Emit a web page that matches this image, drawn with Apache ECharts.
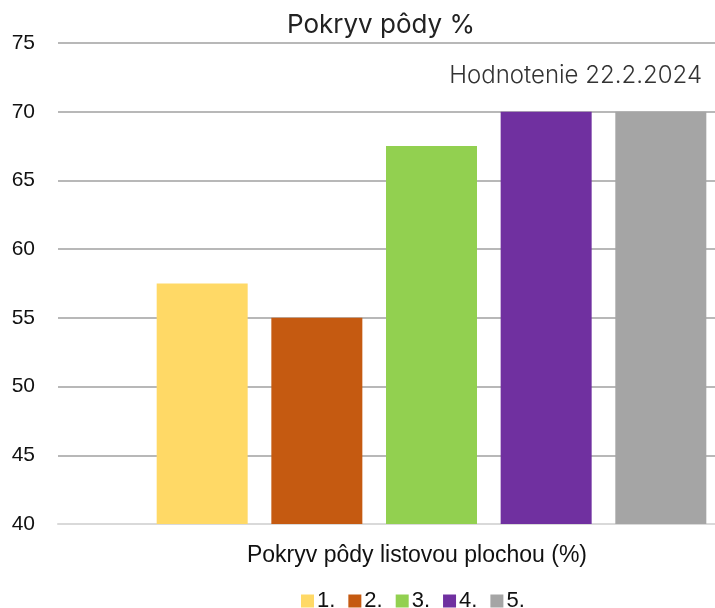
<!DOCTYPE html>
<html lang="sk">
<head>
    <meta charset="UTF-8">
    <title>Pokryv pôdy %</title>
    <script src="https://cdn.jsdelivr.net/npm/echarts@6/dist/echarts.min.js"></script>
    <style>
        html, body { margin: 0; padding: 0; background: #fff; }
        #chart { width: 715px; height: 608px; }
    </style>
</head>
<body>
<div id="chart"></div>
<script type="text/javascript">
    // údaje z grafu
    var categories = ['Pokryv pôdy listovou plochou (%)'];
    var seriesNames = ['1.', '2.', '3.', '4.', '5.'];
    var seriesValues = [[57.5], [55], [67.5], [70], [70]];
    var seriesColors = ['#FFD966', '#C55A11', '#92D050', '#7030A0', '#A5A5A5'];

    var myChart = echarts.init(document.getElementById('chart'));

    var series = seriesNames.map(function (name, i) {
        return {
            name: name,
            type: 'bar',
            data: seriesValues[i],
            barWidth: 91,
            barGap: '26%',
            itemStyle: { color: seriesColors[i] }
        };
    });

    var option = {
        backgroundColor: '#fff',
        animation: false,
        title: [{
            text: 'Pokryv pôdy %',
            left: 376,
            top: 7,
            textAlign: 'center',
            textStyle: { fontFamily: 'Inter', fontSize: 26, fontWeight: 'normal', color: '#222' }
        }, {
            text: 'Hodnotenie 22.2.2024',
            right: 8,
            top: 59,
            textStyle: { fontFamily: 'Inter', fontSize: 24, fontWeight: 300, color: '#333' }
        }, {
            text: categories[0],
            left: 412,
            top: 539,
            textAlign: 'center',
            textStyle: { fontFamily: 'Liberation Sans', fontSize: 23, fontWeight: 'normal', color: '#111' }
        }],
        legend: {
            top: 585,
            left: 296,
            itemWidth: 13,
            itemHeight: 13,
            itemGap: 13,
            icon: 'rect',
            textStyle: { fontFamily: 'Liberation Sans', fontSize: 22, color: '#111', padding: [0, 0, 0, -2] },
            data: seriesNames
        },
        grid: {
            left: 58,
            width: 747,
            top: 43,
            bottom: 84,
            containLabel: false,
            outerBoundsMode: 'none'
        },
        xAxis: {
            type: 'category',
            data: categories,
            axisTick: { show: false },
            axisLabel: { show: false },
            axisLine: { lineStyle: { color: '#D9D9D9', width: 2 } }
        },
        yAxis: {
            type: 'value',
            min: 40,
            max: 75,
            interval: 5,
            axisLine: { show: false },
            axisTick: { show: false },
            axisLabel: { margin: 23, fontFamily: 'Liberation Sans', fontSize: 21, color: '#111' },
            splitLine: { lineStyle: { color: '#A0A0A0', width: 1.5 } }
        },
        series: series
    };
    myChart.setOption(option);
</script>
</body>
</html>
